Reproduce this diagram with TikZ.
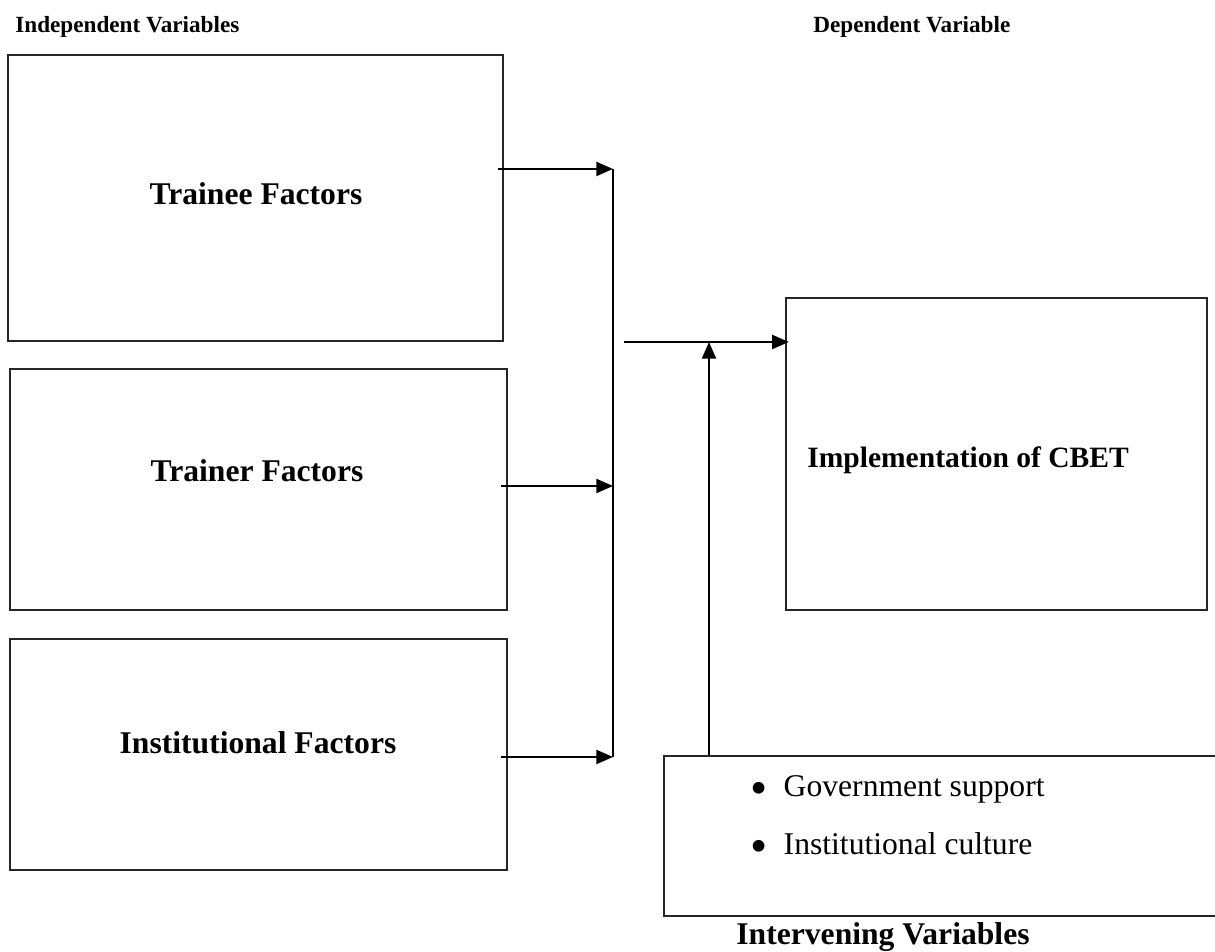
\documentclass[tikz,border=0pt]{standalone}
\usepackage{fontspec}
\setmainfont{Liberation Serif}
\usetikzlibrary{arrows.meta,positioning,fit}
\newcommand{\listdot}{\makebox[19pt][l]{\raisebox{-4.4pt}{\scalebox{1.55}{\textbullet}}}}
\tikzset{varbox/.style={draw=black!85,line width=.8pt,inner sep=0pt},factortext/.style={font=\fontsize{18}{21}\selectfont\bfseries,anchor=base,inner sep=0pt},headtext/.style={font=\fontsize{13.2}{15}\selectfont\bfseries,anchor=base west,inner sep=0pt},listtext/.style={font=\fontsize{18}{21}\selectfont,anchor=base west,inner sep=0pt},flow/.style={line width=1.2pt,-{Triangle[length=9.5pt,width=8pt]}},busline/.style={line width=1.2pt}}

\begin{document}
\begin{tikzpicture}[x=0.02cm,y=-0.02cm]
\clip (0,0) rectangle (1215,952);
% headings
\node[headtext] (indep) at (15,33) {Independent Variables};
\node[headtext] (dep) at (813,33) {Dependent Variable};
% independent variables
\node[varbox,fit={(8,55) (503,341)}] (trainee) {};
\node[factortext] (trainee text) at (256,205) {Trainee Factors};
\node[varbox,fit={(10,369) (507,610)}] (trainer) {};
\node[factortext] (trainer text) at (257,482) {Trainer Factors};
\node[varbox,fit={(10,639) (507,870)}] (inst) {};
\node[factortext] (inst text) at (258,754) {Institutional Factors};
% dependent variable
\node[varbox,fit={(786,298) (1207,610)}] (impl) {};
\node[factortext,anchor=base west,font=\fontsize{16.8}{19}\selectfont\bfseries] (impl text) at (807,468) {Implementation of CBET};
% intervening variables
\node[varbox,fit={(664,756) (1240,916)}] (inter) {};
\node[listtext] (gov) at (750,797) {\listdot Government support};
\node[listtext] (culture) at (750,855) {\listdot Institutional culture};
\node[factortext] (inter text) at (883,945) {Intervening Variables};
% connectors
\coordinate (bus top) at (613,169);
\coordinate (bus mid) at (613,486);
\coordinate (bus bot) at (613,757);
\coordinate (join) at (624,342);
\coordinate (meet) at (709,342);
\draw[busline] (bus top) -- (bus bot);
\draw[flow] ([xshift=-3pt]trainee.east |- bus top) -- (bus top);
\draw[flow] ([xshift=-4pt]trainer.east |- bus mid) -- (bus mid);
\draw[flow] ([xshift=-4pt]inst.east |- bus bot) -- (bus bot);
\draw[flow] (join) -- ([xshift=2pt]impl.west |- join);
\draw[flow] (meet |- inter.north) -- (meet);
\end{tikzpicture}
\end{document}
